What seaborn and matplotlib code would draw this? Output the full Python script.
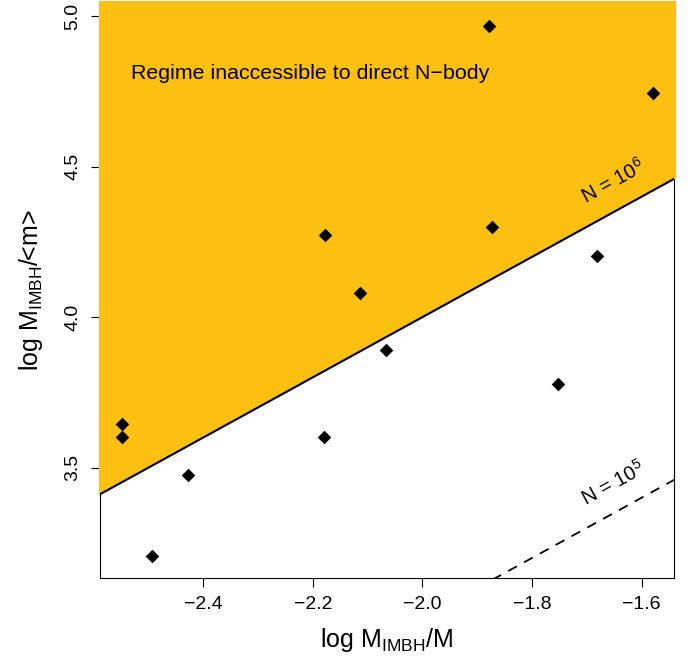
import numpy as np
import pandas as pd
import matplotlib
matplotlib.use("Agg")
import matplotlib.pyplot as plt
import seaborn as sns

# Data
log_mass_ratio = [-2.549, -2.549, -2.493, -2.427, -2.178, -2.180, -2.114,
                  -2.066, -1.879, -1.873, -1.753, -1.682, -1.580]
log_mimbh_over_m = [3.644, 3.601, 3.206, 3.477, 4.273, 3.602, 4.080,
                    3.891, 4.968, 4.299, 3.778, 4.203, 4.743]
log_N_lines = [6, 5]
x_ticks = [-2.4, -2.2, -2.0, -1.8, -1.6]
y_ticks = [3.5, 4.0, 4.5, 5.0]

sns.set_theme(style="ticks")
plt.rcParams["font.family"] = ["Liberation Sans", "DejaVu Sans"]
plt.rcParams["mathtext.fontset"] = "custom"
plt.rcParams["mathtext.rm"] = "Liberation Sans"
plt.rcParams["mathtext.it"] = "Liberation Sans:italic"
for k in ["text.color", "axes.labelcolor", "xtick.color", "ytick.color",
          "axes.edgecolor"]:
    plt.rcParams[k] = "black"

YELLOW = "#FDBF10"
xlim = (-2.5885, -1.541)
ylim = (3.135, 5.0415)

fig = plt.figure(figsize=(6.91, 6.57), dpi=100)
ax = fig.add_axes([100 / 691, 79.5 / 657, 574 / 691, 574 / 657])

df = pd.DataFrame({"x": log_mass_ratio, "y": log_mimbh_over_m})

# Inaccessible regime (above N = 10^6)
xx = np.array([xlim[0] - 0.003, xlim[1] + 0.003])
ax.fill_between(xx, xx + log_N_lines[0], ylim[1] + 0.01, color=YELLOW,
                linewidth=0, zorder=3, clip_on=False)
ax.plot(xx, xx + log_N_lines[0], color="black", lw=1.5, zorder=3.5)
ax.plot(xx, xx + log_N_lines[1], color="black", lw=1.3, zorder=3.5,
        dashes=(5.5, 4.5))

sns.scatterplot(data=df, x="x", y="y", marker="D", color="black", s=48,
                linewidth=0, ax=ax, zorder=5)

ax.set_xlim(*xlim)
ax.set_ylim(*ylim)
ax.set_xticks(x_ticks)
ax.set_xticklabels([f"\u2212{abs(v):.1f}" for v in x_ticks])
ax.set_yticks(y_ticks)
ax.set_yticklabels([f"{v:.1f}" for v in y_ticks], rotation=90, va="center")
ax.tick_params(axis="both", direction="out", length=6.5, width=0.8,
               labelsize=14, pad=7, colors="black")
for sp in ax.spines.values():
    sp.set_linewidth(0.8)
    sp.set_color("black")
    sp.set_zorder(2)

ax.set_xlabel(r"log M$_{\rm IMBH}$/M", fontsize=18, labelpad=9)
ax.set_ylabel(r"log M$_{\rm IMBH}$/<m>", fontsize=18, labelpad=14)

ax.text(-2.532, 4.81, "Regime inaccessible to direct N\u2212body",
        fontsize=15.4, ha="left", va="center", zorder=6)
ang = np.degrees(np.arctan((301.1) / 548.0))
ax.text(-1.652, 4.45, r"N = 10$^6$", fontsize=14.5, rotation=ang,
        ha="center", va="center", zorder=6, rotation_mode="anchor")
ax.text(-1.652, 3.449, r"N = 10$^5$", fontsize=14.5, rotation=ang,
        ha="center", va="center", zorder=6, rotation_mode="anchor")

fig.savefig("out.png", dpi=100)
